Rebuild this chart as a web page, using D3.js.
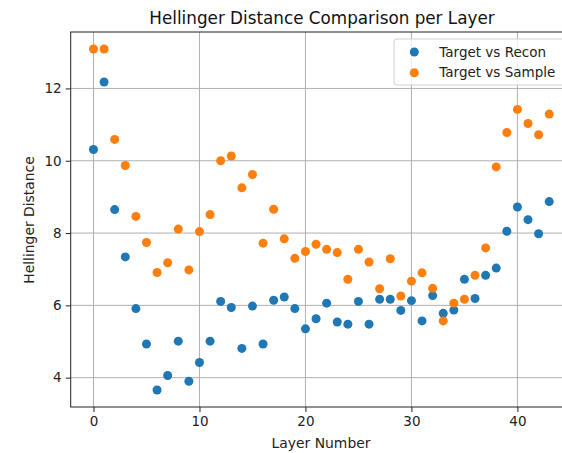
<!DOCTYPE html>
<html>
<head>
<meta charset="utf-8">
<script src="https://cdn.jsdelivr.net/npm/d3@7"></script>
<style>
  body { margin: 0; background: #fff; }
  svg { font-family: "DejaVu Sans", sans-serif; }
</style>
</head>
<body>
<svg width="562" height="453"></svg>
<script>
// Hellinger distance per layer
var layers = d3.range(0, 44);
var recon = [10.31, 12.18, 8.65, 7.34, 5.91, 4.93, 3.66, 4.06, 5.01, 3.90,
             4.42, 5.01, 6.11, 5.94, 4.81, 5.98, 4.93, 6.14, 6.23, 5.91,
             5.35, 5.63, 6.06, 5.54, 5.48, 6.11, 5.48, 6.17, 6.17, 5.86,
             6.13, 5.57, 6.27, 5.78, 5.87, 6.72, 6.19, 6.83, 7.03, 8.05,
             8.72, 8.37, 7.98, 8.87];
var sample = [13.09, 13.09, 10.59, 9.87, 8.46, 7.74, 6.91, 7.18, 8.11, 6.98,
              8.04, 8.51, 10.00, 10.13, 9.25, 9.62, 7.72, 8.66, 7.84, 7.30,
              7.49, 7.69, 7.55, 7.46, 6.72, 7.55, 7.20, 6.46, 7.29, 6.26,
              6.67, 6.90, 6.47, 5.57, 6.06, 6.17, 6.83, 7.59, 9.83, 10.78,
              11.42, 11.03, 10.72, 11.29];
var xTicks = [0, 10, 20, 30, 40];
var yTicks = [4, 6, 8, 10, 12];
var seriesNames = ["Target vs Recon", "Target vs Sample"];
var colors = ["#1f77b4", "#ff7f0e"];

var svg = d3.select("svg");
// plot box (right edge runs past the window, as in the original)
var plotL = 70.7, plotR = 572, plotT = 32, plotB = 407;

// matplotlib style 5% margins
var xMin = d3.min(layers), xMax = d3.max(layers);
var xPad = (xMax - xMin) * 0.05;
var allY = recon.concat(sample);
var yMin = d3.min(allY), yMax = d3.max(allY);
var yPad = (yMax - yMin) * 0.05;

var x = d3.scaleLinear().domain([xMin - xPad, xMax + xPad]).range([plotL, plotR]);
var y = d3.scaleLinear().domain([yMin - yPad, yMax + yPad]).range([plotB, plotT]);

// grid
var grid = svg.append("g");
grid.selectAll("line.gx").data(xTicks).enter().append("line")
    .attr("x1", d => x(d)).attr("x2", d => x(d))
    .attr("y1", plotT).attr("y2", plotB)
    .attr("stroke", "#b0b0b0").attr("stroke-width", 1);
grid.selectAll("line.gy").data(yTicks).enter().append("line")
    .attr("x1", plotL).attr("x2", plotR)
    .attr("y1", d => y(d)).attr("y2", d => y(d))
    .attr("stroke", "#b0b0b0").attr("stroke-width", 1);

// points
var series = [recon, sample];
series.forEach(function(vals, i) {
  svg.append("g").selectAll("circle")
    .data(vals).enter().append("circle")
      .attr("cx", (d, j) => x(layers[j]))
      .attr("cy", d => y(d))
      .attr("r", 4.5)
      .attr("fill", colors[i]);
});

// axes
var xAxis = svg.append("g")
    .attr("transform", "translate(0," + plotB + ")")
    .call(d3.axisBottom(x).tickValues(xTicks).tickSize(5).tickPadding(4).tickSizeOuter(0));
var yAxis = svg.append("g")
    .attr("transform", "translate(" + plotL + ",0)")
    .call(d3.axisLeft(y).tickValues(yTicks).tickSize(5).tickPadding(4).tickSizeOuter(0));
[xAxis, yAxis].forEach(function(a) {
  a.selectAll("text").attr("font-size", 13.5).attr("fill", "#222")
   .style("font-family", "DejaVu Sans, sans-serif");
  a.selectAll("line").attr("stroke", "#222");
  a.select(".domain").remove();
});

// frame
svg.append("rect")
    .attr("x", plotL).attr("y", plotT)
    .attr("width", plotR - plotL).attr("height", plotB - plotT)
    .attr("fill", "none").attr("stroke", "#222").attr("stroke-width", 1);

// labels
svg.append("text")
    .attr("x", 322).attr("y", 24)
    .attr("text-anchor", "middle")
    .attr("font-size", 16.8).attr("fill", "#111")
    .text("Hellinger Distance Comparison per Layer");
svg.append("text")
    .attr("x", 321).attr("y", 447.5)
    .attr("text-anchor", "middle")
    .attr("font-size", 13.9).attr("fill", "#222")
    .text("Layer Number");
svg.append("text")
    .attr("transform", "translate(34,220) rotate(-90)")
    .attr("text-anchor", "middle")
    .attr("font-size", 13.9).attr("fill", "#222")
    .text("Hellinger Distance");

// legend
var legend = svg.append("g");
legend.append("rect")
    .attr("x", 394).attr("y", 39)
    .attr("width", 190).attr("height", 46)
    .attr("rx", 3)
    .attr("fill", "#fff").attr("fill-opacity", 0.8)
    .attr("stroke", "#d0d0d0");
seriesNames.forEach(function(name, i) {
  legend.append("circle")
      .attr("cx", 414.3).attr("cy", 52 + i * 20.7)
      .attr("r", 4.5).attr("fill", colors[i]);
  legend.append("text")
      .attr("x", 439.3).attr("y", 52 + i * 20.7)
      .attr("dy", "0.35em")
      .attr("font-size", 13.5).attr("fill", "#222")
      .text(name);
});
</script>
</body>
</html>
